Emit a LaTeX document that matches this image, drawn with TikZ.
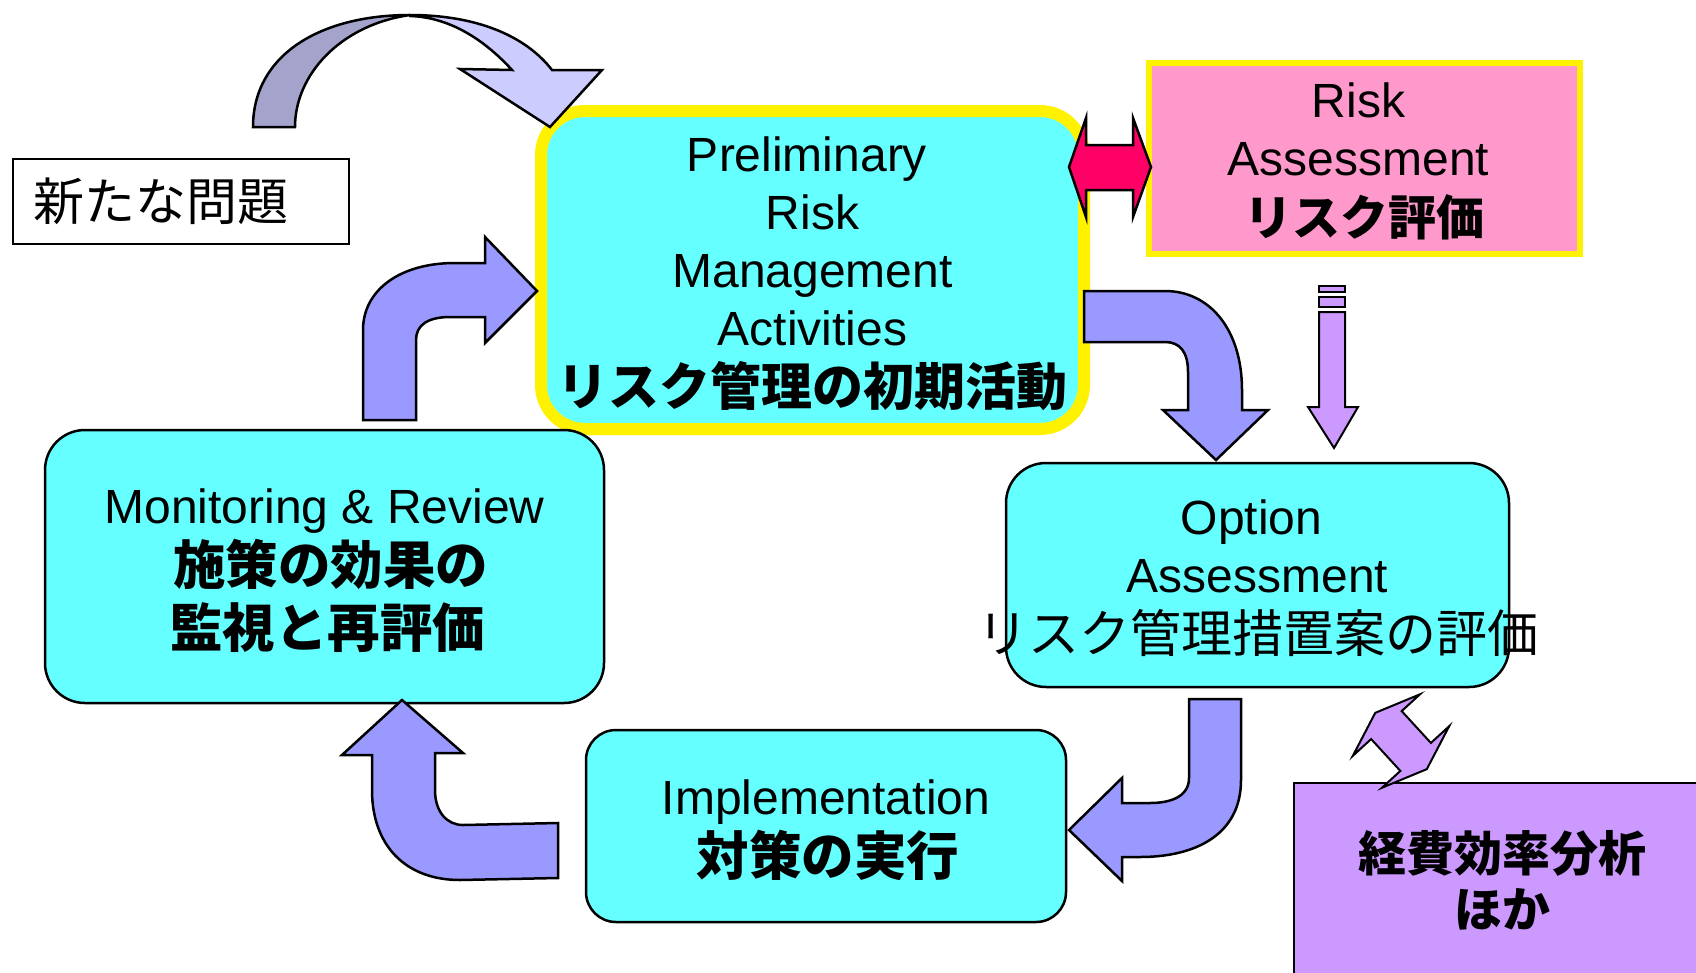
\documentclass[tikz,border=0pt]{standalone}
\usepackage{fontspec}
\setmainfont{Liberation Sans}
\newfontfamily\jp{Noto Sans CJK JP}
\newcommand\JPB[1][51]{\jp\bfseries\fontsize{#1}{58}\selectfont}
\newcommand\JPR{\jp\fontsize{51}{58}\selectfont}
\definecolor{cyanbox}{HTML}{66FFFF}
\definecolor{pinkbox}{HTML}{FF99CC}
\definecolor{purplebox}{HTML}{CC99FF}
\definecolor{arrowblue}{HTML}{9999FF}
\definecolor{arrowlight}{HTML}{CCCCFF}
\definecolor{arrowdark}{HTML}{A3A3CC}
\definecolor{arrowred}{HTML}{FF0066}
\begin{document}
\begin{tikzpicture}[x=1pt,y=-1pt,
  every node/.style={font=\fontsize{48}{58}\selectfont, inner sep=0pt, align=center},
  cbox/.style={draw=black, line width=2.5pt, fill=cyanbox, rounded corners=40pt},
  arrowline/.style={draw=black, line width=2.5pt, line join=miter},
  barrow/.style={arrowline, fill=arrowblue},
  parrow/.style={draw=black, line width=2pt, line join=miter, fill=purplebox},
]
\clip (0,0) rectangle (1696,972);
\fill[white] (0,0) rectangle (1696,972);

% boxes
\node[cbox, draw=yellow, line width=12pt, rounded corners=44pt,
  minimum width=543pt, minimum height=318pt] (prelim) at (812.5,270) {};
\node[draw=yellow, line width=6pt, fill=pinkbox, minimum width=431pt,
  minimum height=191pt] (risk) at (1364.5,158.5) {};
\node[cbox, minimum width=503pt, minimum height=224pt] (option) at (1257.5,575) {};
\node[cbox, minimum width=559pt, minimum height=273pt] (monitor) at (324.5,566.5) {};
\node[cbox, rounded corners=30pt, minimum width=480pt, minimum height=192pt] (impl) at (826,826) {};
\node[draw=black, line width=2pt, fill=purplebox, minimum width=406pt,
  minimum height=192pt] (cost) at (1497,879) {};
\node[draw=black, line width=2pt, minimum height=85pt, text width=295pt,
  inner xsep=20.5pt, align=left] (new) at (181,201.5) {\JPR 新たな問題};

% box texts
\node (prelimtext) at ([yshift=-4pt]prelim.center)
  {Preliminary\hspace*{11pt}\\Risk\hspace*{11pt}\\Management\hspace*{11pt}\\Activities\\[2.5pt]{\JPB リスク管理の初期活動}};
\node (risktext) at ([yshift=-3pt,xshift=-6pt]risk.center)
  {Risk\\Assessment\\[1.5pt]{\JPB[48] リスク評価}};
\node (optiontext) at ([yshift=-3pt]option.center)
  {Option\hspace*{12pt}\\Assessment\\[2.5pt]\makebox[0pt][c]{\JPR リスク管理措置案の評価}};
\node (monitortext) at ([yshift=-4pt]monitor.center)
  {Monitoring \& Review\\[3.5pt]{\JPB[52.5] 施策の効果の}\hspace*{8pt}\\[4.5pt]{\JPB[52.5] 監視と再評価}\hspace*{6pt}};
\node (impltext) at ([yshift=-4pt]impl.center)
  {Implementation\\[3.5pt]{\JPB[52.5] 対策の実行}\hspace*{8pt}};
\node (costtext) at ([yshift=-1pt]cost.center)
  {{\JPB[48] 経費効率分析}\\[-2pt]{\JPB[48] ほか}};

% top curved arrow (new problem -> preliminary)
\draw[arrowline, fill=arrowlight] (410,15) .. controls (475,15) and (525,35) .. (552,70)
  -- (602,70) -- (550,127) -- (460,69) -- (512,70)
  .. controls (480,35) and (445,17) .. (410,16) -- cycle;
\draw[arrowline, fill=arrowdark] (253,127) .. controls (253,55) and (320,15) .. (410,15)
  .. controls (340,25) and (295,75) .. (295,127) -- cycle;

% red double arrow
\draw[arrowline, fill=arrowred] (1069,167) -- (1086,118) -- (1086,145) -- (1133,145)
  -- (1133,118) -- (1151,167) -- (1133,217) -- (1133,190) -- (1086,190) -- (1086,217) -- cycle;

% preliminary -> option
\draw[barrow] (1084,291) -- (1165,291) .. controls (1210,291) and (1242,330) .. (1242,390)
  -- (1242,410) -- (1268,410) -- (1216,460) -- (1163,410) -- (1188,410) -- (1188,372)
  .. controls (1188,352) and (1180,342) .. (1165,342) -- (1084,342) -- cycle;

% risk assessment -> option (striped purple arrow)
\draw[parrow] (1319,286) rectangle (1345,292);
\draw[parrow] (1319,297) rectangle (1345,307);
\draw[parrow] (1319,312) -- (1345,312) -- (1345,407) -- (1358,407) -- (1334,448)
  -- (1308,407) -- (1319,407) -- cycle;

% option -> implementation
\draw[barrow] (1189,699) -- (1241,699) -- (1241,780) .. controls (1241,835) and (1195,857) .. (1140,857)
  -- (1122,857) -- (1122,881) -- (1069,830) -- (1122,778) -- (1122,803) -- (1150,803)
  .. controls (1170,803) and (1189,797) .. (1189,778) -- cycle;

% implementation -> monitoring
\draw[barrow] (558,823) -- (558,878) -- (460,880) .. controls (405,880) and (372,845) .. (372,790)
  -- (372,755) -- (342,755) -- (402,700) -- (463,753) -- (435,753) -- (435,790)
  .. controls (435,812) and (447,825) .. (463,825) -- cycle;

% monitoring -> preliminary
\draw[barrow] (363,420) -- (363,330) .. controls (363,290) and (400,263) .. (455,263)
  -- (485,263) -- (485,237) -- (537,291) -- (485,343) -- (485,317) -- (450,317)
  .. controls (428,317) and (416,325) .. (416,340) -- (416,420) -- cycle;

% purple double arrow (option <-> cost analysis)
\begin{scope}[shift={(1401,741)}, rotate=-47.5, scale=0.92]
\draw[parrow] (-41.5,0) -- (-23.5,49.5) -- (-23.5,22.5) -- (23.5,22.5) -- (23.5,49.5)
  -- (41.5,0) -- (23.5,-49.5) -- (23.5,-22.5) -- (-23.5,-22.5) -- (-23.5,-49.5) -- cycle;
\end{scope}
\end{tikzpicture}
\end{document}
